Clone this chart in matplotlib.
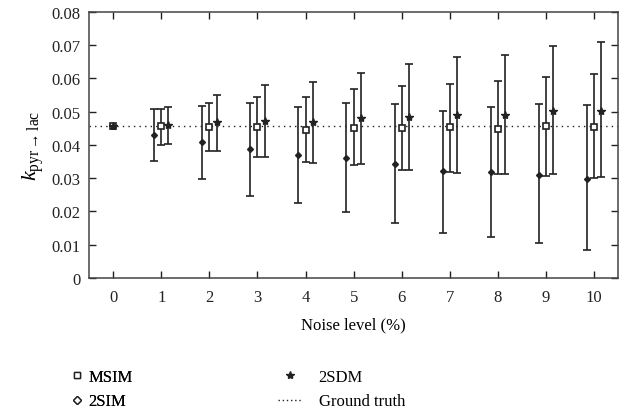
import numpy as np
import matplotlib
matplotlib.use("Agg")
import matplotlib.pyplot as plt
from matplotlib.lines import Line2D

plt.rcParams['font.family'] = ['Liberation Serif', 'DejaVu Serif']
plt.rcParams['mathtext.fontset'] = 'custom'
plt.rcParams['mathtext.rm'] = 'Liberation Serif'
plt.rcParams['mathtext.it'] = 'Liberation Serif:italic'

# noise levels (%)
noise = np.arange(0, 11)
ground_truth = 0.0457

# MSIM: centre, lower, upper
msim = [0.0457, 0.0457, 0.0455, 0.0455, 0.0445, 0.0452, 0.0450, 0.0453, 0.0449, 0.0457, 0.0455]
msim_lo = [0.0457, 0.0401, 0.0381, 0.0365, 0.0348, 0.0341, 0.0325, 0.0319, 0.0314, 0.0308, 0.0301]
msim_hi = [0.0457, 0.0507, 0.0527, 0.0545, 0.0544, 0.0567, 0.0577, 0.0584, 0.0593, 0.0604, 0.0613]

# 2SIM
sim2 = [0.0457, 0.0429, 0.0408, 0.0388, 0.0369, 0.0361, 0.0344, 0.0321, 0.0320, 0.0311, 0.0299]
sim2_lo = [0.0457, 0.0351, 0.0298, 0.0246, 0.0224, 0.0198, 0.0166, 0.0136, 0.0123, 0.0104, 0.0084]
sim2_hi = [0.0457, 0.0509, 0.0518, 0.0527, 0.0514, 0.0527, 0.0523, 0.0502, 0.0515, 0.0522, 0.0519]

# 2SDM
sdm2 = [0.0457, 0.0459, 0.0469, 0.0473, 0.0469, 0.0480, 0.0485, 0.0489, 0.0489, 0.0502, 0.0502]
sdm2_lo = [0.0457, 0.0404, 0.0382, 0.0365, 0.0346, 0.0342, 0.0325, 0.0317, 0.0314, 0.0312, 0.0303]
sdm2_hi = [0.0457, 0.0515, 0.0549, 0.0580, 0.0590, 0.0617, 0.0644, 0.0665, 0.0669, 0.0698, 0.0708]

yticks = [0, 0.01, 0.02, 0.03, 0.04, 0.05, 0.06, 0.07, 0.08]
ytick_labels = ['0', '0.01', '0.02', '0.03', '0.04', '0.05', '0.06', '0.07', '0.08']

col = '#222222'
# side-by-side offset, none at noise level 0 where all methods coincide
offset = np.where(noise == 0, 0.0, 0.15)


def err(c, lo, hi):
    c = np.array(c)
    return [c - np.array(lo), np.array(hi) - c]


fig = plt.figure(figsize=(6.27, 4.14), dpi=100)
ax = fig.add_axes([0.142, 0.326, 0.844, 0.643])

ax.axhline(ground_truth, color=col, ls=(0, (1, 3)), lw=1.0, zorder=1)

ekw = dict(ecolor=col, elinewidth=1.2, capsize=3, capthick=1.2, ls='none', zorder=3)
ax.errorbar(noise - offset, sim2, yerr=err(sim2, sim2_lo, sim2_hi), marker='D', ms=3,
            mfc=col, mec=col, **ekw)
ax.errorbar(noise, msim, yerr=err(msim, msim_lo, msim_hi), marker='s', ms=4,
            mfc='white', mec=col, mew=1.2, **ekw)
ax.errorbar(noise + offset, sdm2, yerr=err(sdm2, sdm2_lo, sdm2_hi), marker='*', ms=6,
            mfc=col, mec=col, **ekw)

ax.set_xlim(-0.5, 10.5)
ax.set_ylim(0, 0.08)
ax.set_xticks(noise)
ax.set_yticks(yticks)
ax.set_yticklabels(ytick_labels)
ax.tick_params(direction='in', top=True, right=True, length=5, width=1, labelsize=12,
               colors=col)
ax.tick_params(axis='y', pad=6)
ax.tick_params(axis='x', pad=8)
for s in ax.spines.values():
    s.set_color('#444444')
    s.set_linewidth(1.1)

ax.set_xlabel('Noise level (%)', fontsize=12, labelpad=8)
ax.set_ylabel(r'$k_{\mathrm{pyr}\rightarrow\mathrm{lac}}$', fontsize=16, labelpad=4)

h_msim = Line2D([], [], ls='none', marker='s', ms=4, mfc='white', mec=col, mew=1.0)
h_sim2 = Line2D([], [], ls='none', marker='D', ms=4, mfc='white', mec=col, mew=1.0)
h_sdm2 = Line2D([], [], ls='none', marker='*', ms=6, mfc=col, mec=col)
h_gt = Line2D([], [], color=col, ls=(0, (1, 2)), lw=1.0)

leg_kw = dict(frameon=False, fontsize=12, loc='upper left', borderpad=0,
              borderaxespad=0, labelspacing=0.5)
leg1 = fig.legend([h_msim, h_sim2], ['MSIM', '2SIM'], bbox_to_anchor=(0.112, 0.106),
                  handlelength=0.8, handletextpad=0.3, **leg_kw)
fig.add_artist(leg1)
fig.legend([h_sdm2, h_gt], ['2SDM', 'Ground truth'], bbox_to_anchor=(0.443, 0.106),
           handlelength=1.45, handletextpad=1.0, **leg_kw)

fig.savefig('out.png', dpi=100)
